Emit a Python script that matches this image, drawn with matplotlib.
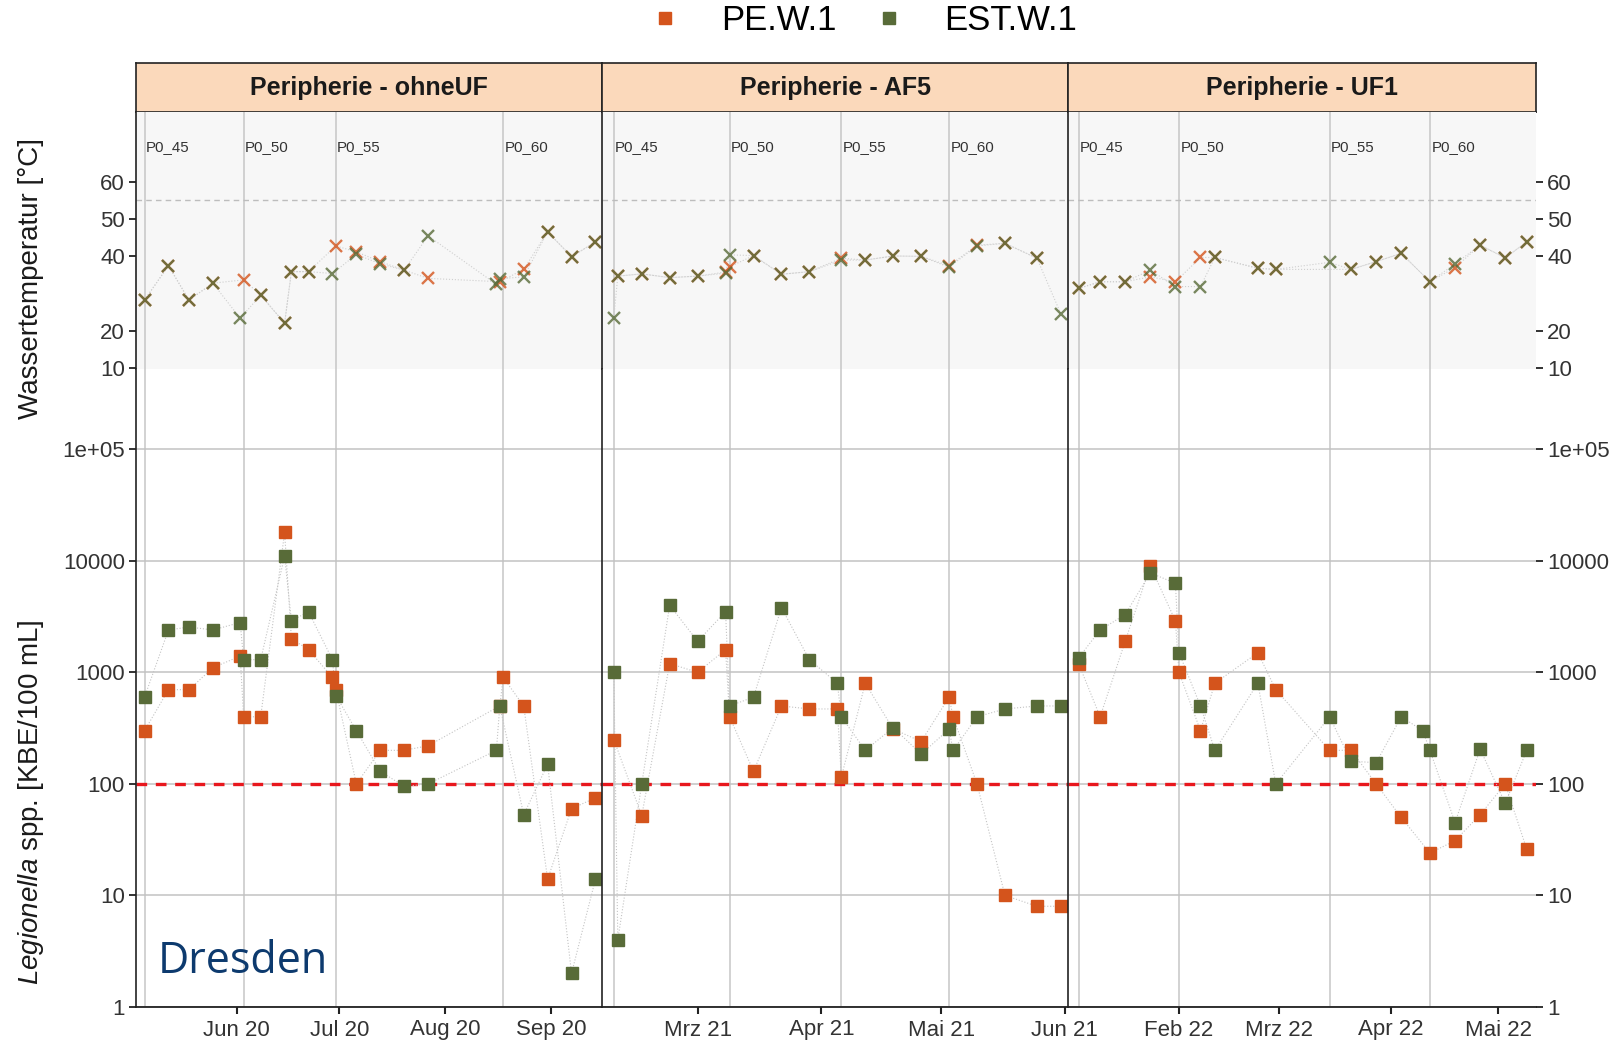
import numpy as np
import pandas as pd
import matplotlib
matplotlib.use("Agg")
import matplotlib.pyplot as plt
import matplotlib.dates as mdates
from matplotlib.lines import Line2D
from matplotlib.ticker import NullLocator

plt.rcParams['font.family'] = ['Liberation Sans', 'DejaVu Sans']
plt.rcParams['mathtext.fontset'] = 'custom'
plt.rcParams['mathtext.rm'] = 'Liberation Sans'
plt.rcParams['mathtext.it'] = 'Liberation Sans:italic'

# ---------------- data ----------------
series_names = ["PE.W.1", "EST.W.1"]
panel_titles = ["Peripherie - ohneUF", "Peripherie - AF5", "Peripherie - UF1"]

# Peripherie - ohneUF (2020)
ohne_pe_dates = ["2020-05-05", "2020-05-12", "2020-05-18", "2020-05-25", "2020-06-02", "2020-06-03",
                 "2020-06-08", "2020-06-15", "2020-06-17", "2020-06-22", "2020-06-29", "2020-06-30",
                 "2020-07-06", "2020-07-13", "2020-07-20", "2020-07-27", "2020-08-17", "2020-08-18",
                 "2020-08-24", "2020-08-31", "2020-09-07", "2020-09-14"]
ohne_pe_kbe = [300, 700, 700, 1100, 1400, 400, 400, 18000, 2000, 1600, 900, 700,
               100, 200, 200, 220, 500, 900, 500, 14, 60, 75]
ohne_est_dates = ["2020-05-05", "2020-05-12", "2020-05-18", "2020-05-25", "2020-06-02", "2020-06-03",
                  "2020-06-08", "2020-06-15", "2020-06-17", "2020-06-22", "2020-06-29", "2020-06-30",
                  "2020-07-06", "2020-07-13", "2020-07-20", "2020-07-27", "2020-08-16", "2020-08-17",
                  "2020-08-24", "2020-08-31", "2020-09-07", "2020-09-14"]
ohne_est_kbe = [600, 2400, 2550, 2400, 2800, 1300, 1300, 11000, 2900, 3500, 1300, 620,
                300, 130, 95, 100, 200, 500, 53, 150, 2, 14]
ohne_pe_temp_dates = ["2020-05-05", "2020-05-12", "2020-05-18", "2020-05-25", "2020-06-03", "2020-06-08",
                      "2020-06-15", "2020-06-17", "2020-06-22", "2020-06-30", "2020-07-06", "2020-07-13",
                      "2020-07-20", "2020-07-27", "2020-08-17", "2020-08-24", "2020-08-31", "2020-09-07",
                      "2020-09-14"]
ohne_pe_temp = [28.3, 37.5, 28.3, 32.8, 33.7, 29.6, 22.1, 35.9, 35.9, 42.8, 41.2, 38.6,
                36.3, 34.1, 33.2, 36.5, 46.6, 39.9, 43.9]
ohne_est_temp_dates = ["2020-05-05", "2020-05-12", "2020-05-18", "2020-05-25", "2020-06-02", "2020-06-08",
                       "2020-06-15", "2020-06-17", "2020-06-22", "2020-06-29", "2020-07-06", "2020-07-13",
                       "2020-07-20", "2020-07-27", "2020-08-16", "2020-08-17", "2020-08-24", "2020-08-31",
                       "2020-09-07", "2020-09-14"]
ohne_est_temp = [28.3, 37.5, 28.3, 32.8, 23.4, 29.6, 22.1, 35.9, 35.9, 35.4, 40.5, 38.0,
                 36.3, 45.5, 32.5, 34.0, 34.5, 46.6, 39.9, 43.9]
ohne_p0_dates = ["2020-05-05", "2020-06-03", "2020-06-30", "2020-08-18"]
ohne_p0_labels = ["P0_45", "P0_50", "P0_55", "P0_60"]
ohne_month_ticks = ["2020-06-01", "2020-07-01", "2020-08-01", "2020-09-01"]
ohne_month_labels = ["Jun 20", "Jul 20", "Aug 20", "Sep 20"]

# Peripherie - AF5 (2021)
af5_pe_dates = ["2021-02-08", "2021-02-15", "2021-02-22", "2021-03-01", "2021-03-08", "2021-03-09",
                "2021-03-15", "2021-03-22", "2021-03-29", "2021-04-05", "2021-04-06", "2021-04-12",
                "2021-04-19", "2021-04-26", "2021-05-03", "2021-05-04", "2021-05-10", "2021-05-17",
                "2021-05-25", "2021-05-31"]
af5_pe_kbe = [250, 52, 1200, 1000, 1600, 400, 130, 500, 470, 470, 115, 800,
              310, 240, 600, 400, 100, 10, 8, 8]
af5_est_dates = ["2021-02-08", "2021-02-09", "2021-02-15", "2021-02-22", "2021-03-01", "2021-03-08",
                 "2021-03-09", "2021-03-15", "2021-03-22", "2021-03-29", "2021-04-05", "2021-04-06",
                 "2021-04-12", "2021-04-19", "2021-04-26", "2021-05-03", "2021-05-04", "2021-05-10",
                 "2021-05-17", "2021-05-25", "2021-05-31"]
af5_est_kbe = [1000, 4, 100, 4000, 1900, 3500, 500, 600, 3800, 1300, 800, 400,
               200, 320, 185, 310, 200, 400, 470, 500, 500]
af5_pe_temp_dates = ["2021-02-09", "2021-02-15", "2021-02-22", "2021-03-01", "2021-03-08", "2021-03-09",
                     "2021-03-15", "2021-03-22", "2021-03-29", "2021-04-06", "2021-04-12", "2021-04-19",
                     "2021-04-26", "2021-05-03", "2021-05-10", "2021-05-17", "2021-05-25"]
af5_pe_temp = [34.7, 35.3, 34.3, 34.7, 35.8, 37.2, 40.2, 35.2, 35.9, 39.5, 39.0, 40.1,
               40.0, 37.5, 43.0, 43.5, 39.5]
af5_est_temp_dates = ["2021-02-08", "2021-02-09", "2021-02-15", "2021-02-22", "2021-03-01", "2021-03-08",
                      "2021-03-09", "2021-03-15", "2021-03-22", "2021-03-29", "2021-04-06", "2021-04-12",
                      "2021-04-19", "2021-04-26", "2021-05-03", "2021-05-10", "2021-05-17", "2021-05-25",
                      "2021-05-31"]
af5_est_temp = [23.4, 34.7, 35.3, 34.3, 34.7, 35.5, 40.4, 40.2, 35.2, 35.9, 39.0, 39.0,
                40.1, 40.0, 37.1, 42.8, 43.5, 39.5, 24.6]
af5_p0_dates = ["2021-02-08", "2021-03-09", "2021-04-06", "2021-05-03"]
af5_p0_labels = ["P0_45", "P0_50", "P0_55", "P0_60"]
af5_month_ticks = ["2021-03-01", "2021-04-01", "2021-05-01", "2021-06-01"]
af5_month_labels = ["Mrz 21", "Apr 21", "Mai 21", "Jun 21"]

# Peripherie - UF1 (2022)
uf1_pe_dates = ["2022-01-04", "2022-01-10", "2022-01-17", "2022-01-24", "2022-01-31", "2022-02-01",
                "2022-02-07", "2022-02-11", "2022-02-23", "2022-02-28", "2022-03-15", "2022-03-21",
                "2022-03-28", "2022-04-04", "2022-04-12", "2022-04-19", "2022-04-26", "2022-05-03",
                "2022-05-09"]
uf1_pe_kbe = [1200, 400, 1900, 9000, 2900, 1000, 300, 800, 1500, 700, 200, 200,
              100, 50, 24, 31, 53, 100, 26]
uf1_est_dates = ["2022-01-04", "2022-01-10", "2022-01-17", "2022-01-24", "2022-01-31", "2022-02-01",
                 "2022-02-07", "2022-02-11", "2022-02-23", "2022-02-28", "2022-03-15", "2022-03-21",
                 "2022-03-28", "2022-04-04", "2022-04-10", "2022-04-12", "2022-04-19", "2022-04-26",
                 "2022-05-03", "2022-05-09"]
uf1_est_kbe = [1350, 2400, 3300, 7800, 6300, 1500, 500, 200, 800, 100, 400, 160,
               155, 400, 300, 200, 45, 205, 67, 200]
uf1_pe_temp_dates = ["2022-01-04", "2022-01-10", "2022-01-17", "2022-01-24", "2022-01-31", "2022-02-07",
                     "2022-02-11", "2022-02-23", "2022-02-28", "2022-03-21", "2022-03-28", "2022-04-04",
                     "2022-04-12", "2022-04-19", "2022-04-26", "2022-05-03", "2022-05-09"]
uf1_pe_temp = [31.4, 33.2, 33.2, 34.5, 33.2, 39.7, 39.7, 36.8, 36.5, 36.5, 38.6, 40.8,
               33.2, 37.0, 43.0, 39.6, 43.9]
uf1_est_temp_dates = ["2022-01-04", "2022-01-10", "2022-01-17", "2022-01-24", "2022-01-31", "2022-02-07",
                      "2022-02-11", "2022-02-23", "2022-02-28", "2022-03-15", "2022-03-21", "2022-03-28",
                      "2022-04-04", "2022-04-12", "2022-04-19", "2022-04-26", "2022-05-03", "2022-05-09"]
uf1_est_temp = [31.4, 33.2, 33.2, 36.3, 31.9, 31.9, 39.7, 36.8, 36.5, 38.4, 36.5, 38.6,
                40.8, 33.2, 38.0, 43.0, 39.6, 43.9]
uf1_p0_dates = ["2022-01-04", "2022-02-01", "2022-03-15", "2022-04-12"]
uf1_p0_labels = ["P0_45", "P0_50", "P0_55", "P0_60"]
uf1_month_ticks = ["2022-02-01", "2022-03-01", "2022-04-01", "2022-05-01"]
uf1_month_labels = ["Feb 22", "Mrz 22", "Apr 22", "Mai 22"]

kbe_ticks = [1, 10, 100, 1000, 10000, 100000]
kbe_tick_labels = ["1", "10", "100", "1000", "10000", "1e+05"]
temp_ticks = [10, 20, 40, 50, 60]
temp_tick_labels = ["10", "20", "40", "50", "60"]
kbe_limit = 100
temp_limit = 55
site_name = "Dresden"

# ---------------- style / layout ----------------
PE_COLOR = "#D4541C"
EST_COLOR = "#586B38"
STRIP_FILL = "#FBD9BB"
GRID_COLOR = "#C2C2C2"
P0_COLOR = "#C6C6C6"
TICK_TEXT = "#333333"

W, H = 1620, 1044
PANEL_X = [(136, 602), (602, 1068), (1068, 1536)]
PANEL_XLIM = [("2020-05-02 12:00", "2020-09-15 22:00"),
              ("2021-02-05 01:00", "2021-06-01 19:00"),
              ("2022-01-01 01:00", "2022-05-11 14:00")]
Y_STRIP = (63, 112)
Y_TEMP = (112, 369)
Y_LOG = (369, 1007)
TEMP_YLIM = (9.8, 78.7)
KBE_YLIM = (1, 10 ** 5.72)


def box(x0, x1, ytop, ybot):
    return [x0 / W, 1 - ybot / H, (x1 - x0) / W, (ybot - ytop) / H]


def dt(values):
    return pd.to_datetime(values)


panels = [
    dict(title=panel_titles[0],
         kbe=[(ohne_pe_dates, ohne_pe_kbe), (ohne_est_dates, ohne_est_kbe)],
         temp=[(ohne_pe_temp_dates, ohne_pe_temp), (ohne_est_temp_dates, ohne_est_temp)],
         p0=(ohne_p0_dates, ohne_p0_labels), months=(ohne_month_ticks, ohne_month_labels)),
    dict(title=panel_titles[1],
         kbe=[(af5_pe_dates, af5_pe_kbe), (af5_est_dates, af5_est_kbe)],
         temp=[(af5_pe_temp_dates, af5_pe_temp), (af5_est_temp_dates, af5_est_temp)],
         p0=(af5_p0_dates, af5_p0_labels), months=(af5_month_ticks, af5_month_labels)),
    dict(title=panel_titles[2],
         kbe=[(uf1_pe_dates, uf1_pe_kbe), (uf1_est_dates, uf1_est_kbe)],
         temp=[(uf1_pe_temp_dates, uf1_pe_temp), (uf1_est_temp_dates, uf1_est_temp)],
         p0=(uf1_p0_dates, uf1_p0_labels), months=(uf1_month_ticks, uf1_month_labels)),
]
colors = [PE_COLOR, EST_COLOR]

fig = plt.figure(figsize=(W / 100, H / 100), dpi=100)
fig.patch.set_facecolor("white")

for i, p in enumerate(panels):
    x0, x1 = PANEL_X[i]
    xlim = (mdates.date2num(pd.Timestamp(PANEL_XLIM[i][0])),
            mdates.date2num(pd.Timestamp(PANEL_XLIM[i][1])))

    ax_s = fig.add_axes(box(x0, x1, *Y_STRIP))
    ax_t = fig.add_axes(box(x0, x1, *Y_TEMP))
    ax_b = fig.add_axes(box(x0, x1, *Y_LOG))

    # strip
    ax_s.set_facecolor(STRIP_FILL)
    ax_s.set_xticks([])
    ax_s.set_yticks([])
    for sp in ax_s.spines.values():
        sp.set_color("#222222")
        sp.set_linewidth(1.2)
    ax_s.text(0.5, 0.5, p["title"], transform=ax_s.transAxes, ha="center", va="center",
              fontsize=18, fontweight="bold", color="#1A1A1A")

    # temperature part
    ax_t.set_facecolor("#F7F7F7")
    ax_t.set_xlim(xlim)
    ax_t.set_ylim(TEMP_YLIM)
    ax_t.axhline(temp_limit, color="#BDBDBD", lw=1.0, ls=(0, (4, 3)), zorder=1)
    p0_d = dt(p["p0"][0])
    for d, lab in zip(p0_d, p["p0"][1]):
        ax_t.axvline(d, color=P0_COLOR, lw=1.1, zorder=0.5)
        ax_t.annotate(lab, (d, 69.4), xytext=(1.0, 0), textcoords="offset points",
                      ha="left", va="center", fontsize=10.8, color="#333333")
    for (dates, vals), c in zip(p["temp"], colors):
        d = dt(dates)
        ax_t.plot(d, vals, ls=":", lw=0.8, color="#CFCFCF", zorder=2)
        ax_t.plot(d, vals, ls="none", marker="x", ms=8, mew=1.7, color=c, alpha=0.8, zorder=3)

    # Legionella part
    ax_b.set_yscale("log")
    ax_b.set_xlim(xlim)
    ax_b.set_ylim(KBE_YLIM)
    ax_b.yaxis.set_minor_locator(NullLocator())
    ax_b.set_yticks(kbe_ticks)
    ax_b.set_yticklabels(kbe_tick_labels)
    ax_b.grid(axis="y", color=GRID_COLOR, lw=1.1)
    ax_b.set_axisbelow(True)
    for d in p0_d:
        ax_b.axvline(d, color=P0_COLOR, lw=1.1, zorder=0.5)
    ax_b.axhline(kbe_limit, color="#E8171D", lw=2.4, ls=(0, (3.2, 2.6)), zorder=2)
    for (dates, vals), c in zip(p["kbe"], colors):
        d = dt(dates)
        ax_b.plot(d, vals, ls=":", lw=0.8, color="#C4C4C4", zorder=3)
        ax_b.plot(d, vals, ls="none", marker="s", ms=9, color=c, zorder=4)

    ax_b.set_xticks(dt(p["months"][0]))
    ax_b.set_xticklabels(p["months"][1])
    ax_b.xaxis.set_minor_locator(NullLocator())

    ax_t.set_yticks(temp_ticks)
    ax_t.set_yticklabels(temp_tick_labels)
    ax_t.tick_params(axis="x", bottom=False, labelbottom=False)

    for ax in (ax_t, ax_b):
        ax.spines["top"].set_visible(False)
        ax.spines["right"].set_visible(False)
        ax.spines["left"].set_color("#222222")
        ax.spines["left"].set_linewidth(1.2)
        ax.tick_params(axis="y", direction="out", length=5, width=1.3, color="#222222",
                       labelsize=16, labelcolor=TICK_TEXT, pad=3,
                       left=(i == 0), labelleft=(i == 0),
                       right=(i == 2), labelright=(i == 2))
    ax_t.spines["bottom"].set_visible(False)
    ax_b.spines["bottom"].set_color("#222222")
    ax_b.spines["bottom"].set_linewidth(1.3)
    ax_b.tick_params(axis="x", direction="out", length=5, width=1.5, color="#222222",
                     labelsize=16, labelcolor=TICK_TEXT, pad=4)

# legend
handles = [Line2D([], [], ls="none", marker="s", ms=9, color=c) for c in colors]
fig.legend(handles, series_names, loc="center", bbox_to_anchor=(0.5346, 0.980), ncol=2,
           frameon=False, fontsize=25, handlelength=0.6, handletextpad=1.3,
           columnspacing=1.2)

# axis titles
fig.text(31 / W, 1 - 279 / H, "Wassertemperatur [°C]", rotation=90, ha="center", va="center",
         fontsize=20, color="#1A1A1A")
fig.text(31 / W, 1 - 802 / H, r"$\mathit{Legionella}$ spp. [KBE/100 mL]", rotation=90,
         ha="center", va="center", fontsize=20, color="#1A1A1A")

fig.text(158 / W, 1 - 973 / H, site_name, ha="left", va="baseline", fontsize=31,
         color="#0D3A6E", family=["Open Sans", "DejaVu Sans"])

fig.savefig("out.png", dpi=100)
